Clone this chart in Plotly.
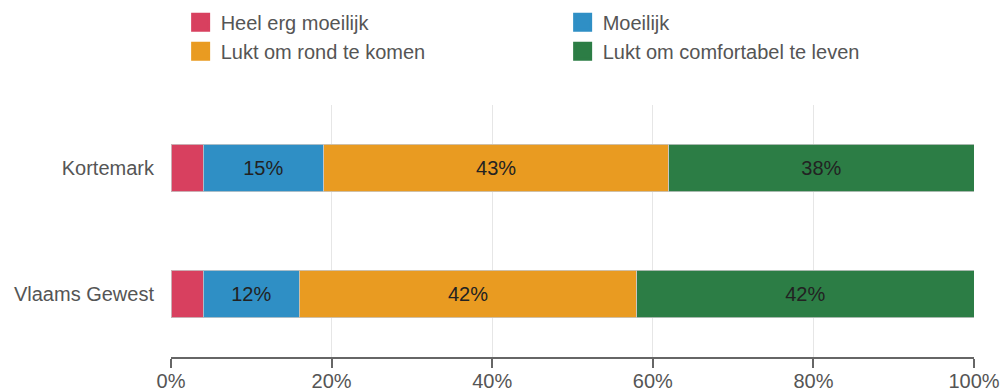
import plotly.graph_objects as go

categories = ["Kortemark", "Vlaams Gewest"]
series_names = ["Heel erg moeilijk", "Moeilijk", "Lukt om rond te komen", "Lukt om comfortabel te leven"]
heel_erg_moeilijk = [4, 4]
moeilijk = [15, 12]
rond_komen = [43, 42]
comfortabel = [38, 42]
colors = ["#d8405f", "#2f8fc5", "#e99b21", "#2c7d45"]
tick_vals = [0, 20, 40, 60, 80, 100]
tick_text = ["0%", "20%", "40%", "60%", "80%", "100%"]

values = [heel_erg_moeilijk, moeilijk, rond_komen, comfortabel]
FONT = "Liberation Sans, Arial, sans-serif"

fig = go.Figure()
for name, vals, col in zip(series_names, values, colors):
    texts = [f"{v}%" if v >= 8 else "" for v in vals]
    fig.add_trace(go.Bar(
        y=categories, x=vals, name=name, orientation="h",
        marker=dict(color=col, line=dict(color="rgba(200,200,200,0.8)", width=1)),
        text=texts, textposition="inside", insidetextanchor="middle",
        constraintext="none",
        textfont=dict(color="#222222", size=20, family=FONT),
        width=0.38, hoverinfo="skip", showlegend=False,
    ))
# legend entries with square markers
for name, col in zip(series_names, colors):
    fig.add_trace(go.Scatter(
        x=[None], y=[None], mode="markers", name=name,
        marker=dict(symbol="square", size=20, color=col,
                    line=dict(color=col, width=3)),
        showlegend=True, hoverinfo="skip",
    ))

fig.update_layout(
    barmode="stack",
    width=1004, height=391,
    margin=dict(l=171, r=30, t=105, b=34, autoexpand=False),
    paper_bgcolor="white", plot_bgcolor="white",
    font=dict(family=FONT, color="#555555", size=20),
    showlegend=True,
    legend=dict(orientation="h", x=0.012, xanchor="left", y=0.993, yanchor="top",
                yref="container", xref="paper",
                entrywidth=337, entrywidthmode="pixels",
                font=dict(size=20, color="#555555", family=FONT), traceorder="normal",
                itemsizing="trace", tracegroupgap=0, bgcolor="rgba(0,0,0,0)"),
    xaxis=dict(range=[0, 100], tickvals=tick_vals, ticktext=tick_text,
               showgrid=True, gridcolor="#e6e6e6", gridwidth=1,
               showline=True, linecolor="#666666", linewidth=2,
               ticks="outside", ticklen=9, tickcolor="#666666", tickwidth=2,
               ticklabelstandoff=-4,
               tickfont=dict(size=20, color="#555555", family=FONT),
               zeroline=False, fixedrange=True, automargin=False),
    yaxis=dict(categoryorder="array", categoryarray=categories, autorange="reversed",
               showgrid=False, showline=False, ticks="",
               ticklabelstandoff=16, automargin=False, fixedrange=True,
               tickfont=dict(size=20, color="#555555", family=FONT)),
)

fig.write_html("out.html", config={"displayModeBar": False},
               post_script="document.body.style.margin='0';")
